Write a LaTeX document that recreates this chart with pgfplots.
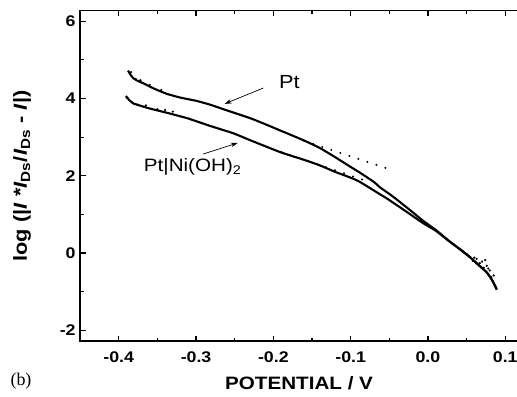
\documentclass[border=0pt]{standalone}
\usepackage{fontspec}
\setmainfont{Liberation Sans}[FakeStretch=1.15]
\newfontfamily\seriffont{Liberation Serif}
\usepackage{pgfplots}
\pgfplotsset{compat=1.18}
\usetikzlibrary{arrows.meta}

\begin{document}
\begin{tikzpicture}
\path[use as bounding box] (-80.1bp,-54.9bp) rectangle (436.9bp,341.2bp);
\begin{axis}[
 scale only axis, width=438bp, height=330.5bp,
 xmin=-0.45, xmax=0.1166, ymin=-2.28, ymax=6.27,
 xtick={-0.4,-0.3,-0.2,-0.1,0.0,0.1},
 xticklabels={-0.4,-0.3,-0.2,-0.1,0.0,0.1},
 minor xtick={-0.35,-0.25,-0.15,-0.05,0.05},
 ytick={-2,0,2,4,6}, yticklabels={-2,0,2,4,6},
 minor ytick={-1,1,3,5},
 ytick pos=left,
 tick align=inside,
 major tick length=5.5bp, minor tick length=3.5bp,
 every tick/.style={black, line width=1.2pt},
 axis line style={line width=1.6pt},
 tick label style={font=\bfseries\fontsize{15.5}{15.5}\selectfont},
 xticklabel style={yshift=-7bp},
 yticklabel style={xshift=-1bp},
 xlabel={POTENTIAL / V},
 ylabel={log (|\textit{I} *\textit{I}\textsubscript{Ds}/\textit{I}\textsubscript{Ds} - \textit{I}|)},
 every axis x label/.style={at={(axis description cs:0.5,0)}, anchor=center, yshift=-42bp, font=\bfseries\fontsize{18}{18}\selectfont},
 every axis y label/.style={at={(axis description cs:0,0.5)}, anchor=center, xshift=-58bp, rotate=90, font=\bfseries\fontsize{19}{19}\selectfont},
 clip=false,
]
% Pt
\addplot[black, line width=2.1pt, line join=round, smooth, tension=0.3] coordinates {
(-0.388,4.72) (-0.385,4.62) (-0.381,4.52) (-0.375,4.45) (-0.368,4.39)
(-0.355,4.26) (-0.338,4.12) (-0.320,4.02) (-0.300,3.94) (-0.282,3.84)
(-0.260,3.69) (-0.230,3.49) (-0.210,3.33) (-0.191,3.17) (-0.179,3.07)
(-0.160,2.91) (-0.140,2.72) (-0.120,2.48) (-0.101,2.24) (-0.088,2.08)
(-0.070,1.84) (-0.062,1.70) (-0.050,1.53) (-0.040,1.38) (-0.020,1.06)
(-0.006,0.83) (0.010,0.60) (0.028,0.30) (0.040,0.12) (0.054,-0.10)
(0.065,-0.30) (0.076,-0.50) (0.083,-0.70) (0.089,-0.93)
};
% Pt|Ni(OH)2
\addplot[black, line width=2.1pt, line join=round, smooth, tension=0.3] coordinates {
(-0.391,4.06) (-0.386,3.95) (-0.381,3.87) (-0.370,3.80) (-0.360,3.74)
(-0.334,3.61) (-0.310,3.48) (-0.282,3.29) (-0.252,3.10) (-0.230,2.92)
(-0.200,2.68) (-0.191,2.61) (-0.179,2.53) (-0.160,2.41) (-0.140,2.27)
(-0.120,2.10) (-0.100,1.95) (-0.088,1.84) (-0.062,1.52) (-0.053,1.41)
(-0.030,1.10) (-0.006,0.77) (0.010,0.58) (0.024,0.36) (0.040,0.12)
(0.054,-0.10) (0.065,-0.30) (0.076,-0.50) (0.083,-0.70) (0.089,-0.95)
};
% scatter
\addplot[only marks, mark=*, mark size=0.9pt, black] coordinates {
(0.045,0.05) (0.050,-0.02) (0.060,-0.12) (0.063,-0.15) (0.067,-0.26)
(0.070,-0.22) (0.074,-0.18) (0.076,-0.33) (0.078,-0.40) (0.080,-0.45)
(0.082,-0.62) (0.085,-0.58) (0.072,-0.38) (0.058,-0.20)
(-0.384,4.68) (-0.378,4.50) (-0.372,4.47) (-0.389,4.02) (-0.383,3.90) (-0.376,3.84)
(-0.365,3.82) (-0.350,3.72) (-0.340,3.70) (-0.330,3.66) (-0.360,4.35) (-0.345,4.22)
};
% Tafel fits (dotted)
\addplot[black, line width=2.2pt, line cap=round, dash pattern=on 0pt off 9.5bp] coordinates {(-0.16,2.90) (-0.053,2.19)};
\addplot[black, line width=2.2pt, line cap=round, dash pattern=on 0pt off 9.5bp] coordinates {(-0.19,2.62) (-0.082,1.88)};
% annotations
\node[anchor=base west, font=\fontsize{19}{19}\selectfont] at (axis cs:-0.197,4.27) {Pt};
\node[anchor=base west, font=\fontsize{18}{18}\selectfont] at (axis cs:-0.372,2.10) {Pt|Ni(OH)\textsubscript{2}};
\draw[-{Stealth[length=7bp,width=4.5bp]}, line width=0.7pt] (axis cs:-0.213,4.27) -- (axis cs:-0.263,3.86);
\draw[-{Stealth[length=7bp,width=4.5bp]}, line width=0.7pt] (axis cs:-0.291,2.56) -- (axis cs:-0.246,2.85);
\end{axis}
\node[font=\seriffont\fontsize{18}{18}\selectfont] at (-59.1bp,-39.9bp) {(b)};
\end{tikzpicture}
\end{document}
